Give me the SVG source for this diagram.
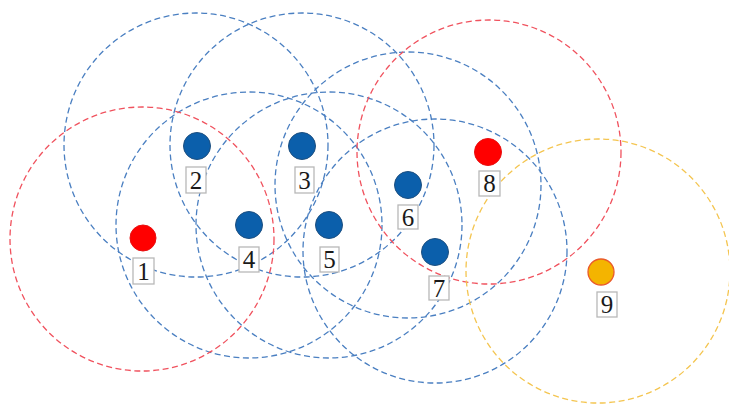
<svg xmlns="http://www.w3.org/2000/svg" width="729" height="405" viewBox="0 0 729 405">
<style>
.rng{fill:none;stroke-width:1.3;stroke-dasharray:6 3.5}
.rb{stroke:#4a7fc1}
.rr{stroke:#f0525e}
.ro{stroke:#f4c550}
.db{fill:#0b5fab;stroke:#1d4f80;stroke-width:1}
.dr{fill:#ff0000;stroke:#e81010;stroke-width:1}
.do{fill:#f4b400;stroke:#ea5a2a;stroke-width:1.3}
.lb{fill:#ffffff;stroke:#b8b8b8;stroke-width:1.3}
.lt{font-family:"Liberation Serif","Times New Roman",serif;font-size:25px;fill:#1a1a1a;text-anchor:middle}
</style>
<rect width="729" height="405" fill="#ffffff"/>
<g id="ranges">
<circle class="rng rb" cx="196" cy="145" r="132"/>
<circle class="rng rb" cx="302" cy="145" r="132"/>
<circle class="rng rb" cx="249" cy="225" r="133"/>
<circle class="rng rb" cx="329" cy="225" r="133"/>
<circle class="rng rb" cx="408" cy="185" r="133"/>
<circle class="rng rb" cx="435" cy="251" r="132"/>
<circle class="rng rr" cx="142" cy="239" r="132"/>
<circle class="rng rr" cx="489" cy="152" r="132"/>
<circle class="rng ro" cx="598" cy="271" r="132"/>
</g>
<g id="connectors"></g>
<g id="node1"><circle class="dr" cx="143" cy="238" r="13"/><rect class="lb" x="133" y="258" width="21" height="26"/><text class="lt" x="143.5" y="280">1</text></g>
<g id="node2"><circle class="db" cx="197" cy="146" r="13.5"/><rect class="lb" x="186" y="167" width="20" height="26"/><text class="lt" x="196" y="189">2</text></g>
<g id="node3"><circle class="db" cx="302" cy="146" r="13.5"/><rect class="lb" x="295" y="167" width="19" height="26"/><text class="lt" x="304.5" y="189">3</text></g>
<g id="node4"><circle class="db" cx="249" cy="225" r="13.5"/><rect class="lb" x="239" y="247" width="20" height="25"/><text class="lt" x="249" y="268">4</text></g>
<g id="node5"><circle class="db" cx="329" cy="225" r="13.5"/><rect class="lb" x="320" y="247" width="19" height="25"/><text class="lt" x="329.5" y="268">5</text></g>
<g id="node6"><circle class="db" cx="408" cy="185" r="13.5"/><rect class="lb" x="398" y="205" width="20" height="24"/><text class="lt" x="408" y="226">6</text></g>
<g id="node7"><circle class="db" cx="435" cy="252" r="13.5"/><rect class="lb" x="429" y="276" width="20" height="24"/><text class="lt" x="439" y="297">7</text></g>
<g id="node8"><circle class="dr" cx="488" cy="152" r="13.5"/><rect class="lb" x="479" y="171" width="21" height="25"/><text class="lt" x="489.5" y="192">8</text></g>
<g id="node9"><circle class="do" cx="601" cy="272" r="13"/><rect class="lb" x="597" y="292" width="20" height="25"/><text class="lt" x="607" y="313">9</text></g>
</svg>
